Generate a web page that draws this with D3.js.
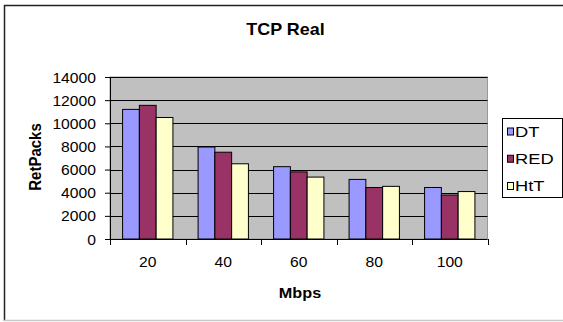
<!DOCTYPE html>
<html>
<head>
<meta charset="utf-8">
<script src="https://cdn.jsdelivr.net/npm/d3@7"></script>
<style>
  html, body { margin: 0; padding: 0; background: #fff; }
  svg { display: block; font-family: "Liberation Sans", Arial, sans-serif; }
</style>
</head>
<body>
<svg id="chart" width="563" height="322"></svg>
<script>
// Retransmitted packets per link speed, for each queue policy
const categories = ["20", "40", "60", "80", "100"];
const seriesNames = ["DT", "RED", "HtT"];
const dtValues  = [11200, 7950, 6250, 5150, 4450];
const redValues = [11550, 7500, 5800, 4450, 3800];
const httValues = [10500, 6500, 5350, 4550, 4100];
const yTicks = [0, 2000, 4000, 6000, 8000, 10000, 12000, 14000];

const seriesValues = [dtValues, redValues, httValues];
const colors = ["#9999ff", "#993366", "#ffffcc"];
const sx = 1.12; // horizontal text widening

const svg = d3.select("#chart");

// outer frame
svg.append("line").attr("x1", 4.5).attr("y1", 5).attr("x2", 4.5).attr("y2", 321)
  .attr("stroke", "#222").attr("stroke-width", 1.5);
svg.append("line").attr("x1", 4).attr("y1", 5.5).attr("x2", 563).attr("y2", 5.5)
  .attr("stroke", "#222").attr("stroke-width", 1.5);
svg.append("line").attr("x1", 4).attr("y1", 320.5).attr("x2", 563).attr("y2", 320.5)
  .attr("stroke", "#c8c8c8").attr("stroke-width", 1.5);

const plot = { left: 110, right: 487.5, top: 77, bottom: 239 };

const x = d3.scaleBand().domain(categories).range([plot.left, plot.right]).paddingInner(0).paddingOuter(0);
const inner = d3.scaleBand().domain(seriesNames)
  .range([0, x.bandwidth()]).paddingInner(0).paddingOuter(0.75);
const y = d3.scaleLinear().domain([0, 14000]).range([plot.bottom, plot.top]);

function wideText(sel, tx, ty, k = sx) {
  sel.attr("transform", `translate(${tx},${ty}) scale(${k},1)`);
}

// plot background
svg.append("rect")
  .attr("x", plot.left).attr("y", plot.top)
  .attr("width", plot.right - plot.left).attr("height", plot.bottom - plot.top)
  .attr("fill", "#c0c0c0").attr("stroke", "#9a9a9a").attr("stroke-width", 1);

// gridlines
svg.append("g").selectAll("line").data(yTicks.filter(d => d > 0)).join("line")
  .attr("x1", plot.left).attr("x2", plot.right)
  .attr("y1", d => Math.round(y(d)) + 0.5).attr("y2", d => Math.round(y(d)) + 0.5)
  .attr("stroke", "#000").attr("stroke-width", 1);

// bars
const groups = svg.append("g").selectAll("g").data(categories).join("g")
  .attr("transform", d => `translate(${x(d)},0)`);
groups.selectAll("rect")
  .data((c, i) => seriesNames.map((s, j) => ({ s, v: seriesValues[j][i], j })))
  .join("rect")
  .attr("x", d => inner(d.s))
  .attr("y", d => y(d.v))
  .attr("width", inner.bandwidth())
  .attr("height", d => y(0) - y(d.v))
  .attr("fill", d => colors[d.j])
  .attr("stroke", "#000").attr("stroke-width", 1);

// y axis
const yAxis = svg.append("g").attr("transform", `translate(${plot.left},0)`)
  .call(d3.axisLeft(y).tickValues(yTicks).tickSize(5).tickPadding(14).tickFormat(d3.format("d")));
yAxis.select(".domain").attr("stroke", "#000");
yAxis.selectAll(".tick line").attr("stroke", "#000");
yAxis.selectAll(".tick text")
  .attr("font-size", 14).attr("fill", "#000").attr("font-family", "Liberation Sans, Arial, sans-serif")
  .attr("x", 0).attr("dy", "0.36em")
  .each(function () { wideText(d3.select(this), -14, 0); });

// x axis: labels centred on bands, ticks on band boundaries
const xAxis = svg.append("g").attr("transform", `translate(0,${plot.bottom})`)
  .call(d3.axisBottom(x).tickSize(0).tickPadding(0));
xAxis.select(".domain").remove();
xAxis.selectAll(".tick text")
  .attr("font-size", 14).attr("fill", "#000").attr("font-family", "Liberation Sans, Arial, sans-serif")
  .attr("y", 0).attr("dy", 0)
  .each(function () { wideText(d3.select(this), 0, 28); });
svg.append("line").attr("x1", plot.left).attr("x2", plot.right)
  .attr("y1", plot.bottom + 0.5).attr("y2", plot.bottom + 0.5).attr("stroke", "#000");
const boundaries = categories.map(c => x(c)).concat([x(categories[categories.length - 1]) + x.bandwidth()]);
svg.append("g").selectAll("line").data(boundaries).join("line")
  .attr("x1", d => Math.round(d) + 0.5).attr("x2", d => Math.round(d) + 0.5)
  .attr("y1", plot.bottom).attr("y2", plot.bottom + 6)
  .attr("stroke", "#000");

// titles
svg.append("text").text("TCP Real")
  .attr("font-size", 16).attr("font-weight", "bold").attr("text-anchor", "middle")
  .call(s => wideText(s, 285.5, 35));
svg.append("text").text("Mbps")
  .attr("font-size", 14.5).attr("font-weight", "bold").attr("text-anchor", "middle")
  .call(s => wideText(s, 300, 298));
svg.append("text").text("RetPacks")
  .attr("font-size", 15).attr("font-weight", "bold").attr("text-anchor", "middle")
  .attr("transform", `translate(41,157) rotate(-90) scale(1,${sx})`);

// legend
const legend = svg.append("g");
legend.append("rect").attr("x", 502.5).attr("y", 118.5).attr("width", 60).attr("height", 79)
  .attr("fill", "#fff").attr("stroke", "#000").attr("stroke-width", 1);
const ly = d3.scalePoint().domain(seriesNames).range([131.5, 186]);
const items = legend.selectAll("g").data(seriesNames).join("g")
  .attr("transform", d => `translate(0,${ly(d)})`);
items.append("rect").attr("x", 507.5).attr("y", -3.5).attr("width", 6).attr("height", 7)
  .attr("fill", (d, i) => colors[i]).attr("stroke", "#000").attr("stroke-width", 1);
items.append("text").text(d => d)
  .attr("font-size", 15).attr("dy", "0.36em")
  .each(function () { wideText(d3.select(this), 515, 0, 1.22); });
</script>
</body>
</html>
